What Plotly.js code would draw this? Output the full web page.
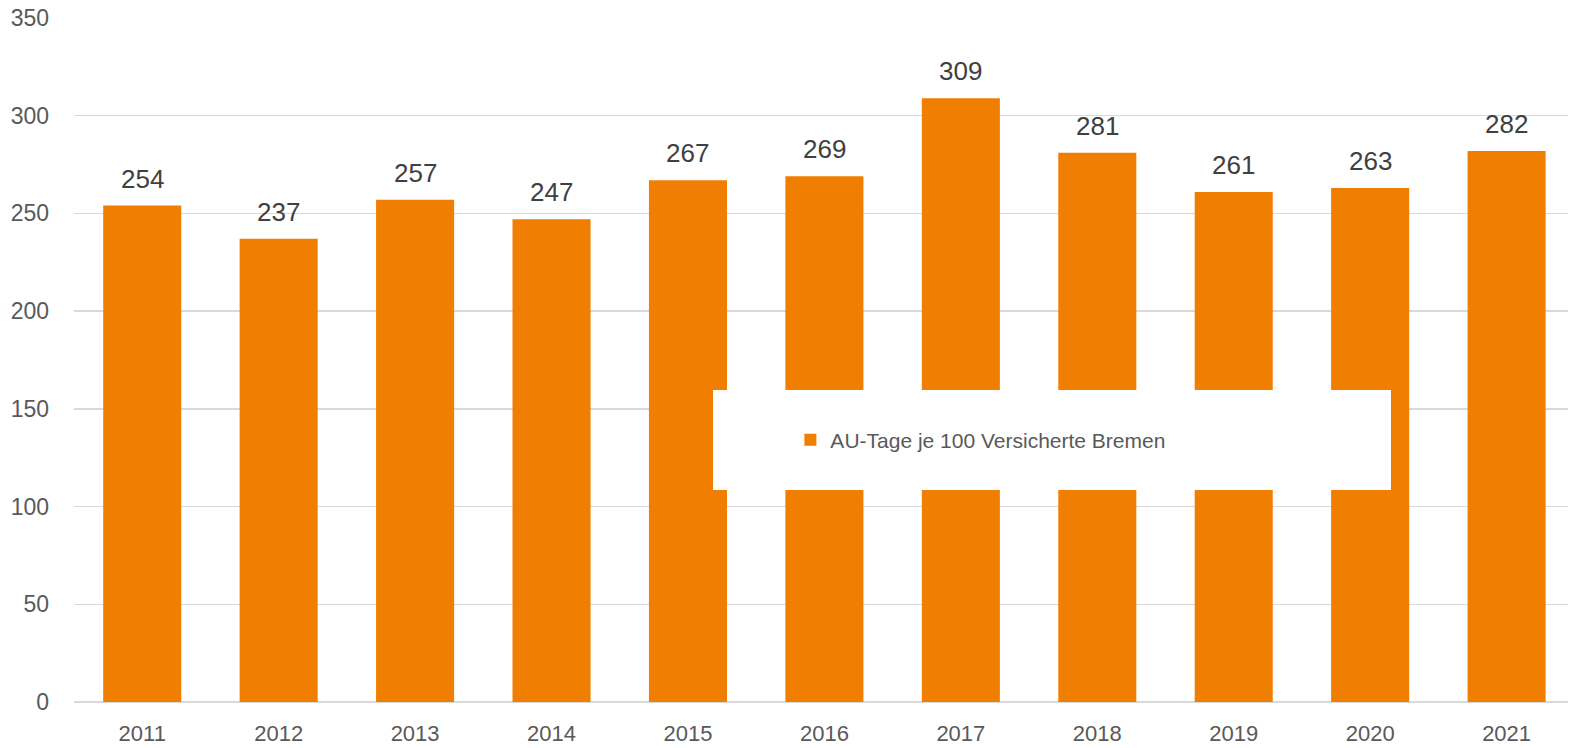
<!DOCTYPE html>
<html>
<head>
<meta charset="utf-8">
<script src="https://cdn.plot.ly/plotly-3.0.1.min.js"></script>
<style>html,body{margin:0;padding:0;background:#fff;}#chart{width:1575px;height:748px;}</style>
</head>
<body>
<div id="chart"></div>
<script>
const years = ['2011','2012','2013','2014','2015','2016','2017','2018','2019','2020','2021'];
const auTage = [254, 237, 257, 247, 267, 269, 309, 281, 261, 263, 282];
const seriesName = 'AU-Tage je 100 Versicherte Bremen';
const yTicks = [0, 50, 100, 150, 200, 250, 300, 350];

const FONT = '"Liberation Sans Narrow", "Arial Narrow", "Liberation Sans", Arial, sans-serif';
const ORANGE = '#F07E00';

const trace = {
  type: 'bar',
  x: years,
  y: auTage,
  name: seriesName,
  marker: {color: ORANGE},
  showlegend: true,
  hoverinfo: 'x+y'
};

// annotations placed by category index (numeric-looking category strings would be read as indices)
const annotations = years.map((yr, i) => ({
  x: i, y: auTage[i], xref: 'x', yref: 'y',
  text: String(auTage[i]), showarrow: false,
  yanchor: 'bottom', yshift: 10,
  font: {family: FONT, size: 26, color: '#404040'}
}));

const layout = {
  width: 1575, height: 748,
  margin: {l: 74, r: 7, t: 18, b: 46},
  paper_bgcolor: '#fff', plot_bgcolor: '#fff',
  bargap: 0.428,
  font: {family: FONT, color: '#595959'},
  xaxis: {
    type: 'category', range: [-0.5, 10.45],
    showgrid: false, showline: false, zeroline: false,
    ticks: '', ticklabelstandoff: 16,
    tickfont: {family: FONT, size: 22, color: '#595959'}
  },
  yaxis: {
    range: [0, 350], tickvals: yTicks,
    showgrid: true, gridcolor: '#D9D9D9', gridwidth: 1.5,
    zeroline: true, zerolinecolor: '#D9D9D9', zerolinewidth: 1.5,
    showline: false, ticks: '', ticklabelstandoff: 24,
    tickfont: {family: FONT, size: 23, color: '#595959'}
  },
  shapes: [{
    type: 'rect', xref: 'paper', yref: 'paper',
    x0: 0.4277, x1: 0.8815, y0: 0.31, y1: 0.456,
    fillcolor: '#FFFFFF', line: {width: 0}, layer: 'above'
  }],
  legend: {
    x: 0.4795, y: 0.383, xanchor: 'left', yanchor: 'middle',
    bgcolor: 'rgba(0,0,0,0)', borderwidth: 0,
    font: {family: FONT, size: 21, color: '#595959'}
  },
  annotations: annotations
};

Plotly.newPlot('chart', [trace], layout, {displayModeBar: false, staticPlot: true});
</script>
</body>
</html>
